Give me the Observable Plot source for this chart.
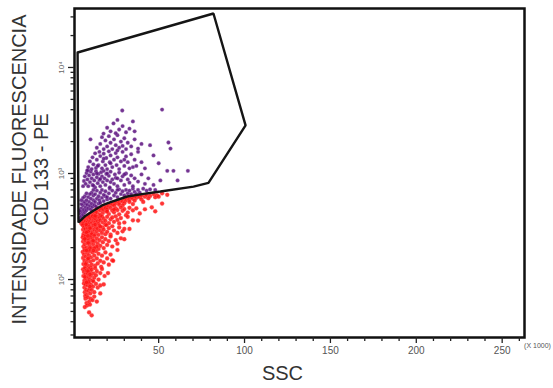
<!DOCTYPE html>
<html>
<head>
<meta charset="utf-8">
<script src="https://cdn.jsdelivr.net/npm/d3@7"></script>
<script src="https://cdn.jsdelivr.net/npm/@observablehq/plot@0.6"></script>
<style>
  html, body { margin: 0; padding: 0; background: #fff; }
  #chart { width: 553px; height: 388px; }
</style>
</head>
<body>
<div id="chart"></div>
<script>
// SSC (x 1000) vs CD 133 - PE fluorescence, one event per pair [ssc, fluorescence]

// Events below the gate (CD 133 negative)
const negativeEvents = [
  [17,478],[18,495],[19,488],[20,505],[21,498],[22,518],[23,510],[24,535],[25,522],[26,548],[27,530],[28,562],[29,545],[30,578],[31,556],[32,590],[33,568],[34,600],[35,580],[36,608],[37,590],[38,615],[39,598],[40,622],[42,605],[43,630],[45,615],[47,640],[49,622],[52,650],[55,630],[24,500],[27,508],[30,525],[33,540],[36,555],[40,570],[44,585],[48,598],[20,482],[29,500],[35,515],[41,540],[50,605],
  [9,398],[10,412],[11,428],[11.5,405],[12,440],[13,420],[13.5,452],[14,432],[15,462],[15.5,410],[16,448],[17,465],[17.5,425],[18,455],[19,472],[19.5,438],[20,460],[21,415],[22,475],[23,448],[24,430],[25,470],[26,452],[27,412],[28,478],[29,445],[30,462],[32,428],[33,475],[35,450],[37,470],[39,420],[42,460],[46,480],[12,402],[16,402],[20,440],[24,458],[31,405],[14,470],
  [5,338],[5.5,350],[6,362],[6.5,342],[7,375],[7.5,355],[8,388],[8.5,348],[9,370],[9.5,390],[10,352],[10.5,378],[11,340],[11.5,395],[12,362],[12.5,382],[13,345],[13.5,372],[14,392],[14.5,355],[15,335],[15.5,380],[16,362],[17,395],[17.5,345],[18,375],[19,358],[20,390],[21,340],[22,370],[23,385],[24,350],[25,395],[26,365],[28,380],[30,345],[32,390],[35,362],[6,335],[9,333],[13,398],[19,332],[27,338],
  [5.8,325],[6,295],[6.3,270],[6.6,312],[7,282],[7.3,300],[7.6,265],[8,320],[8.4,288],[8.8,305],[9.2,272],[9.6,318],[10,292],[10.5,262],[11,308],[11.5,280],[12,325],[12.5,296],[13,268],[13.5,312],[14,285],[14.5,302],[15,264],[15.5,322],[16,290],[17,275],[17.5,310],[18,295],[19,268],[19.5,325],[20,282],[21,305],[22,265],[23,318],[24,290],[26,275],[27,310],[29,285],[30,300],[6.2,260],[7.8,330],[9,285],[11,268],[13,330],[16,315],[10,305],[8,278],
  [5.8,250],[6,228],[6.2,205],[6.5,240],[6.8,195],[7,215],[7.3,255],[7.6,232],[8,200],[8.3,245],[8.6,220],[9,192],[9.4,238],[9.8,210],[10.2,252],[10.6,225],[11,198],[11.5,242],[12,215],[12.5,258],[13,230],[13.5,200],[14,245],[14.5,218],[15,194],[15.5,235],[16,208],[17,250],[17.5,225],[18,198],[19,240],[20,212],[21,230],[22,255],[23,205],[25,235],[26,218],[28,245],[7,242],[8.8,258],[10,198],[11.8,232],[14,205],[9,222],[12.5,198],
  [5.8,182],[6,160],[6.2,140],[6.5,172],[6.8,150],[7,188],[7.3,132],[7.6,165],[8,145],[8.3,178],[8.6,155],[9,135],[9.4,170],[9.8,186],[10.2,148],[10.6,162],[11,138],[11.5,180],[12,152],[12.5,168],[13,135],[13.5,185],[14,158],[14.5,142],[15,175],[16,150],[16.5,132],[17,168],[18,145],[19,180],[20,158],[21,138],[22,172],[23,152],[7.5,140],[9,158],[10.5,130],[12,188],[8,188],
  [6,125],[6.2,108],[6.5,118],[6.8,98],[7.1,128],[7.4,112],[7.7,102],[8,122],[8.3,96],[8.6,115],[9,106],[9.4,126],[9.8,100],[10.2,118],[10.6,108],[11,124],[11.5,98],[12,114],[12.5,104],[13,128],[13.5,110],[14,120],[15,100],[16,115],[17,126],[18.5,108],[7,106],[8.8,120],[10,112],[12,96],[9.2,96],
  [6.5,92],[6.8,84],[7,76],[7.4,90],[7.8,80],[8.2,72],[8.6,88],[9,78],[9.4,93],[9.8,82],[10.2,74],[10.6,89],[11,80],[11.8,86],[12.5,76],[13.5,91],[14.5,84],[8,94],[10,86],[7.2,70],[16,88],
  [7.4,66],[8,60],[8.8,68],[9.6,62],[10.5,66],[11.5,64],[8.3,57],[12.5,69],[10,58],
  [11,46],[9.5,49],[7,55],[14,62],[16,74],[18,90],[20.5,115],[23.5,150],[26,190],[30,240],[33,300],[38,360],[48,440],[52,520]
];

// Events inside the gate (CD 133 positive)
const positiveEvents = [
  [4,380],[4.5,420],[5,395],[5,470],[5.5,440],[6,410],[6,500],[6.5,455],[7,430],[7.5,480],[7.5,520],[8,450],[8.5,505],[9,470],[9.5,540],[10,495],[10.5,460],[11,520],[11.5,485],[12,560],[12.5,505],[13,540],[13.5,490],[14,580],[15,520],[15.5,560],[16,530],[17,590],[18,550],[19,610],[20,570],[4,445],[5,515],[6.5,540],[8,560],[9,600],[10.5,580],[12,620],
  [13,640],[14,690],[15,610],[16,660],[17,700],[18,630],[19,680],[20,600],[21,650],[21.5,720],[22,580],[23,690],[24,620],[25,660],[26,600],[27,710],[28,640],[29,680],[30,620],[31,700],[32,650],[33,690],[34,640],[35,720],[36,670],[38,700],[39,660],[41,720],[43,690],[45,710],[48,700],[11,660],[12,700],[7,610],[8,650],[6,590],[5,560],[10,640],[26,700],[37,640],
  [6,760],[6.5,850],[7,940],[7.5,800],[8,1010],[8.5,880],[9,760],[9.5,960],[10,830],[10.5,1040],[11,900],[11.5,780],[12,980],[12.5,860],[13,740],[13.5,1050],[14,920],[14.5,810],[15,990],[15.5,870],[16,760],[16.5,1030],[17,940],[17.5,830],[18,1060],[18.5,900],[19,780],[19.5,990],[20,860],[21,950],[21.5,740],[22,1040],[23,880],[24,800],[24.5,980],[25,910],[26,760],[27,1020],[28,860],[29,940],[30,780],[31,1000],[32,880],[33,820],[34,960],[35,760],[36,900],[38,840],[40,980],[42,800],[44,900],[47,780],[51,860],[55,1060],[58.6,1060],[61,860],[67,1060],[9,1070],[12,770],[16,890],[20,1000],[22,830],[26,900],[30,980],[14,1000],[8.4,1070],
  [9,1150],[10,1300],[11,1100],[11.5,1420],[12,1220],[13,1550],[13.5,1130],[14,1350],[15,1200],[15.5,1600],[16,1460],[17,1120],[17.5,1300],[18,1540],[19,1200],[19.5,1400],[20,1100],[21,1620],[21.5,1280],[22,1480],[23,1150],[24,1350],[25,1560],[25.5,1200],[26,1420],[27,1100],[28,1300],[29,1600],[30,1180],[31,1450],[32,1280],[33,1120],[34,1520],[36,1350],[37,1180],[38,1600],[40,1280],[42,1120],[47,1480],[50,1250],[14.5,1180],[18,1380],[22,1250],[26,1650],[30,1350],[35,1150],
  [14,1750],[16,1900],[17,2200],[18,1700],[19,2050],[20,1800],[21,2250],[22,1950],[23,1700],[24,2100],[25,1850],[26,2300],[27,1750],[28,2000],[29,1820],[30,2150],[31,1700],[32,1950],[34,1800],[36,2100],[38,1720],[40,1900],[10.3,2100],[55.7,1960],[56.9,1720],[45,1850],
  [17.9,2380],[20,2700],[22,2500],[23.7,2970],[25,2400],[27,2600],[29,2800],[31,2450],[33,2650],[36,2500],[26,3200],[28.8,3930],[52,4010],[35,3100]
];

// Gate polygon vertices [ssc, fluorescence]
const gate = [
  [2.8,13850],[81.9,32280],[100.6,2840],[79,815],[70.3,753],[51,676],[41.2,643],[31.7,607],[22,536],[17,500],[12.2,448],[7,395],[3.3,345]
];

// Axis ticks and labels
const xMajorTicks = [50, 100, 150, 200, 250];
const xMinorTicks = [10, 20, 30, 40, 60, 70, 80, 90, 110, 120, 130, 140, 160, 170, 180, 190, 210, 220, 230, 240, 260];
const yMajorTicks = [100, 1000, 10000];
const yMajorLabels = ["10²", "10³", "10⁴"];
const yMinorTicks = [30, 40, 50, 60, 70, 80, 90, 200, 300, 400, 500, 600, 700, 800, 900, 2000, 3000, 4000, 5000, 6000, 7000, 8000, 9000, 20000, 30000];

const xTitle = "SSC";
const xUnit = "(X 1000)";
const yTitle = "INTENSIDADE FLUORESCENCIA";
const ySubtitle = "CD 133 - PE";

const yTickTable = yMajorTicks.map((v, i) => ({value: v, label: yMajorLabels[i]}));
const gateClosed = [...gate, gate[0]];

const chart = Plot.plot({
  width: 553,
  height: 388,
  marginLeft: 74,
  marginRight: 29,
  marginTop: 8,
  marginBottom: 51,
  style: {background: "#fff", fontFamily: "'Liberation Sans', Arial, sans-serif"},
  x: {domain: [1, 263], axis: null, label: null},
  y: {type: "log", domain: [28.4, 36000], axis: null, label: null},
  marks: [
    Plot.dot(negativeEvents, {x: d => d[0], y: d => d[1], r: 2.1, fill: "#ff1212", fillOpacity: 0.85, stroke: "#ff7a7a", strokeOpacity: 0.4, strokeWidth: 0.7}),
    Plot.dot(positiveEvents, {x: d => d[0], y: d => d[1], r: 1.9, fill: "#5a0f7d", fillOpacity: 0.85, stroke: "#b08bc8", strokeOpacity: 0.45, strokeWidth: 0.7}),
    Plot.line(gateClosed, {x: d => d[0], y: d => d[1], stroke: "#151515", strokeWidth: 2.4, strokeLinejoin: "miter"}),
    Plot.frame({stroke: "#111", strokeWidth: 2.5}),
    Plot.axisX({ticks: xMinorTicks, tickSize: 4, tickFormat: () => "", stroke: "#222", strokeWidth: 1.3, label: null}),
    Plot.axisX({ticks: xMajorTicks, tickSize: 6, tickPadding: 3, stroke: "#222", strokeWidth: 1.3, fontSize: 10, fill: "#555", label: null}),
    Plot.axisY({ticks: yMinorTicks, tickSize: 3.5, tickFormat: () => "", stroke: "#222", strokeWidth: 1.3, label: null}),
    Plot.axisY({ticks: yMajorTicks, tickSize: 6, tickFormat: () => "", stroke: "#222", strokeWidth: 1.3, label: null}),
    Plot.text(yTickTable, {y: "value", text: "label", frameAnchor: "left", dx: -13, rotate: -90, fontSize: 8, fill: "#666", textAnchor: "middle", lineAnchor: "middle"}),
    Plot.text([xTitle], {frameAnchor: "bottom", dx: -17, dy: 36, fontSize: 20, fill: "#333", lineAnchor: "middle"}),
    Plot.text([xUnit], {frameAnchor: "bottom-right", dx: 13, dy: 8, fontSize: 7, fill: "#555", textAnchor: "middle", lineAnchor: "middle"}),
    Plot.text([yTitle], {frameAnchor: "left", dx: -55, dy: -3.5, rotate: -90, fontSize: 20, fill: "#333", lineAnchor: "middle", textAnchor: "middle"}),
    Plot.text([ySubtitle], {frameAnchor: "left", dx: -33, dy: -3.5, rotate: -90, fontSize: 20, fill: "#333", lineAnchor: "middle", textAnchor: "middle"})
  ]
});

document.getElementById("chart").appendChild(chart);
</script>
</body>
</html>
